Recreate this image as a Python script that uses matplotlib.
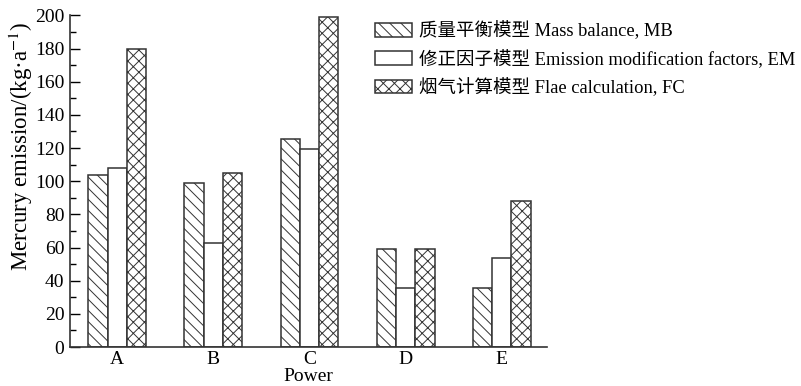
import matplotlib.pyplot as plt
import numpy as np

plt.rcParams['font.family'] = ['Liberation Serif', 'Noto Sans CJK SC']
plt.rcParams['mathtext.fontset'] = 'stix'
plt.rcParams['hatch.linewidth'] = 0.7

# Dados
categorias = ['A', 'B', 'C', 'D', 'E']
mb = [104, 99, 125.5, 59, 35.5]
em = [108, 63, 119.5, 35.5, 53.5]
fc = [179.5, 105, 199, 59, 88]

series = [
    (mb, '\\\\\\', '质量平衡模型 Mass balance, MB'),
    (em, '', '修正因子模型 Emission modification factors, EM'),
    (fc, 'xxx', '烟气计算模型 Flae calculation, FC'),
]

fig = plt.figure(figsize=(8.01, 3.86), dpi=100)
ax = fig.add_axes([0.0874, 0.101, 0.683 - 0.0874, 0.859])

x = np.arange(len(categorias))
largura = 0.2
for i, (vals, hatch, label) in enumerate(series):
    ax.bar(x + (i - 1) * largura, vals, largura, color='white',
           edgecolor='#333333', linewidth=1.1, hatch=hatch, label=label)

ax.set_xlim(-0.49, 4.47)
ax.set_ylim(0, 200)
ax.set_yticks(range(0, 201, 20))
ax.set_yticks(range(0, 201, 10), minor=True)
ax.set_xticks(x)
ax.set_xticklabels(categorias)
ax.tick_params(axis='y', which='major', direction='in', length=7, width=1, labelsize=14, pad=4)
ax.tick_params(axis='y', which='minor', direction='in', length=4, width=1)
ax.tick_params(axis='x', length=0, labelsize=14, pad=3)

for s in ['top', 'right']:
    ax.spines[s].set_visible(False)
for s in ['left', 'bottom']:
    ax.spines[s].set_linewidth(1.2)
    ax.spines[s].set_color('#333333')

ax.set_ylabel('Mercury emission/(kg·a$^{-1}$)', fontsize=16.5)
ax.yaxis.set_label_coords(-0.073, 0.604)
ax.set_xlabel('Power', fontsize=14, labelpad=0)

fig.legend(loc='upper left', bbox_to_anchor=(0.468, 0.944), frameon=False,
           fontsize=13.3, handlelength=2.0, handleheight=0.75, handletextpad=0.4,
           labelspacing=0.5, borderpad=0, borderaxespad=0)

fig.savefig('out.png', dpi=100)
